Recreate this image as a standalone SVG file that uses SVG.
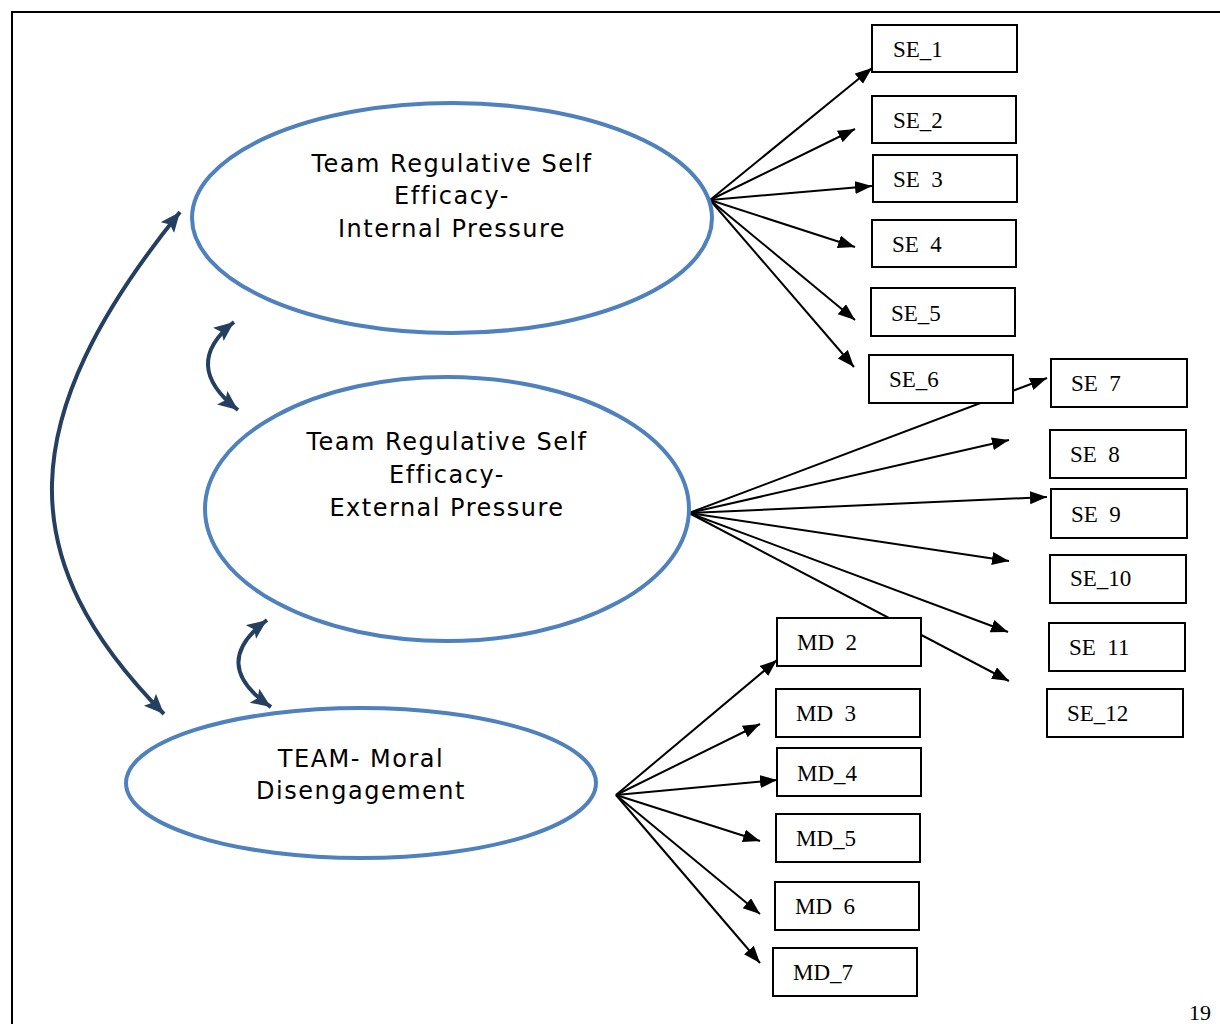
<svg xmlns="http://www.w3.org/2000/svg" width="1220" height="1024" viewBox="0 0 1220 1024">
<defs>
<style>
.ell{fill:none;stroke:#4F81BD;stroke-width:4}
.lt{font-family:"DejaVu Sans",Verdana,sans-serif;font-size:24px;letter-spacing:1.5px;fill:#000;text-anchor:middle}
.box rect{fill:#fff;stroke:#000;stroke-width:2}
.box text{font-family:"Liberation Serif","Times New Roman",serif;font-size:23px;fill:#000}
.ld{stroke:#000;stroke-width:2;fill:none;marker-end:url(#ah)}
.cv{stroke:#243F60;stroke-width:4;fill:none;marker-start:url(#nh);marker-end:url(#nh)}
</style>
<marker id="ah" markerUnits="userSpaceOnUse" markerWidth="18" markerHeight="14" refX="17" refY="6.5" orient="auto">
<path d="M0,0 L17,6.5 L0,13 z" fill="#000"/>
</marker>
<marker id="nh" markerUnits="userSpaceOnUse" markerWidth="22" markerHeight="18" refX="20" refY="8.5" orient="auto-start-reverse">
<path d="M0,0 L20,8.5 L0,17 L4,8.5 z" fill="#243F60"/>
</marker>
</defs>
<rect width="1220" height="1024" fill="#fff"/>
<path d="M12,1024 V12 H1220" fill="none" stroke="#000" stroke-width="2"/>
<text x="1189" y="1020" font-family="Liberation Serif,serif" font-size="22">19</text>

<g id="connectors">
<line class="ld" x1="710" y1="200" x2="872" y2="68"/>
<line class="ld" x1="710" y1="200" x2="855" y2="129"/>
<line class="ld" x1="710" y1="200" x2="872" y2="186"/>
<line class="ld" x1="710" y1="200" x2="855" y2="247"/>
<line class="ld" x1="710" y1="200" x2="855" y2="320"/>
<line class="ld" x1="710" y1="200" x2="854" y2="367"/>
<line class="ld" x1="689" y1="513" x2="1047" y2="378"/>
<line class="ld" x1="689" y1="513" x2="1009" y2="440"/>
<line class="ld" x1="689" y1="513" x2="1047" y2="497"/>
<line class="ld" x1="689" y1="513" x2="1009" y2="561"/>
<line class="ld" x1="689" y1="513" x2="1008" y2="632"/>
<line class="ld" x1="689" y1="513" x2="1009" y2="681"/>
<line class="ld" x1="616" y1="795" x2="777" y2="660"/>
<line class="ld" x1="616" y1="795" x2="760" y2="724"/>
<line class="ld" x1="616" y1="795" x2="777" y2="780"/>
<line class="ld" x1="616" y1="795" x2="760" y2="841"/>
<line class="ld" x1="616" y1="795" x2="760" y2="914"/>
<line class="ld" x1="616" y1="795" x2="760" y2="963"/>
<path class="cv" d="M180,212 C12,420 12,560 164,714"/>
<path class="cv" d="M234,322 Q180,365 238,410"/>
<path class="cv" d="M267,620 Q208,664 271,707"/>
</g>

<g id="f1">
<ellipse class="ell" cx="452" cy="218" rx="260" ry="115"/>
<text class="lt" x="452" y="172">Team Regulative Self</text>
<text class="lt" x="452" y="204">Efficacy-</text>
<text class="lt" x="452" y="237">Internal Pressure</text>
</g>
<g id="f2">
<ellipse class="ell" cx="447" cy="509" rx="242" ry="132"/>
<text class="lt" x="447" y="450">Team Regulative Self</text>
<text class="lt" x="447" y="483">Efficacy-</text>
<text class="lt" x="447" y="516">External Pressure</text>
</g>
<g id="f3">
<ellipse class="ell" cx="361" cy="783" rx="235" ry="75"/>
<text class="lt" x="361" y="767">TEAM- Moral</text>
<text class="lt" x="361" y="799">Disengagement</text>
</g>

<g id="se1" class="box"><rect x="872" y="25" width="145" height="47"/><text x="893" y="57">SE_1</text></g>
<g id="se2" class="box"><rect x="872" y="96" width="144" height="47"/><text x="893" y="128">SE_2</text></g>
<g id="se3" class="box"><rect x="873" y="155" width="144" height="47"/><text x="893" y="187" xml:space="preserve">SE  3</text></g>
<g id="se4" class="box"><rect x="872" y="220" width="144" height="47"/><text x="892" y="252" xml:space="preserve">SE  4</text></g>
<g id="se5" class="box"><rect x="871" y="288" width="144" height="48"/><text x="891" y="321">SE_5</text></g>
<g id="se6" class="box"><rect x="869" y="355" width="144" height="48"/><text x="889" y="387">SE_6</text></g>
<g id="se7" class="box"><rect x="1051" y="359" width="136" height="48"/><text x="1071" y="391" xml:space="preserve">SE  7</text></g>
<g id="se8" class="box"><rect x="1050" y="430" width="136" height="48"/><text x="1070" y="462" xml:space="preserve">SE  8</text></g>
<g id="se9" class="box"><rect x="1051" y="489" width="136" height="49"/><text x="1071" y="522" xml:space="preserve">SE  9</text></g>
<g id="se10" class="box"><rect x="1050" y="555" width="136" height="48"/><text x="1070" y="586">SE_10</text></g>
<g id="se11" class="box"><rect x="1049" y="623" width="136" height="48"/><text x="1069" y="655" xml:space="preserve">SE  11</text></g>
<g id="se12" class="box"><rect x="1047" y="689" width="136" height="48"/><text x="1067" y="721">SE_12</text></g>
<g id="md2" class="box"><rect x="777" y="618" width="144" height="48"/><text x="797" y="650" xml:space="preserve">MD  2</text></g>
<g id="md3" class="box"><rect x="776" y="689" width="144" height="48"/><text x="796" y="721" xml:space="preserve">MD  3</text></g>
<g id="md4" class="box"><rect x="777" y="748" width="144" height="48"/><text x="797" y="781">MD_4</text></g>
<g id="md5" class="box"><rect x="776" y="814" width="144" height="48"/><text x="796" y="846">MD_5</text></g>
<g id="md6" class="box"><rect x="775" y="882" width="144" height="48"/><text x="795" y="914" xml:space="preserve">MD  6</text></g>
<g id="md7" class="box"><rect x="773" y="948" width="144" height="48"/><text x="793" y="980">MD_7</text></g>
</svg>
